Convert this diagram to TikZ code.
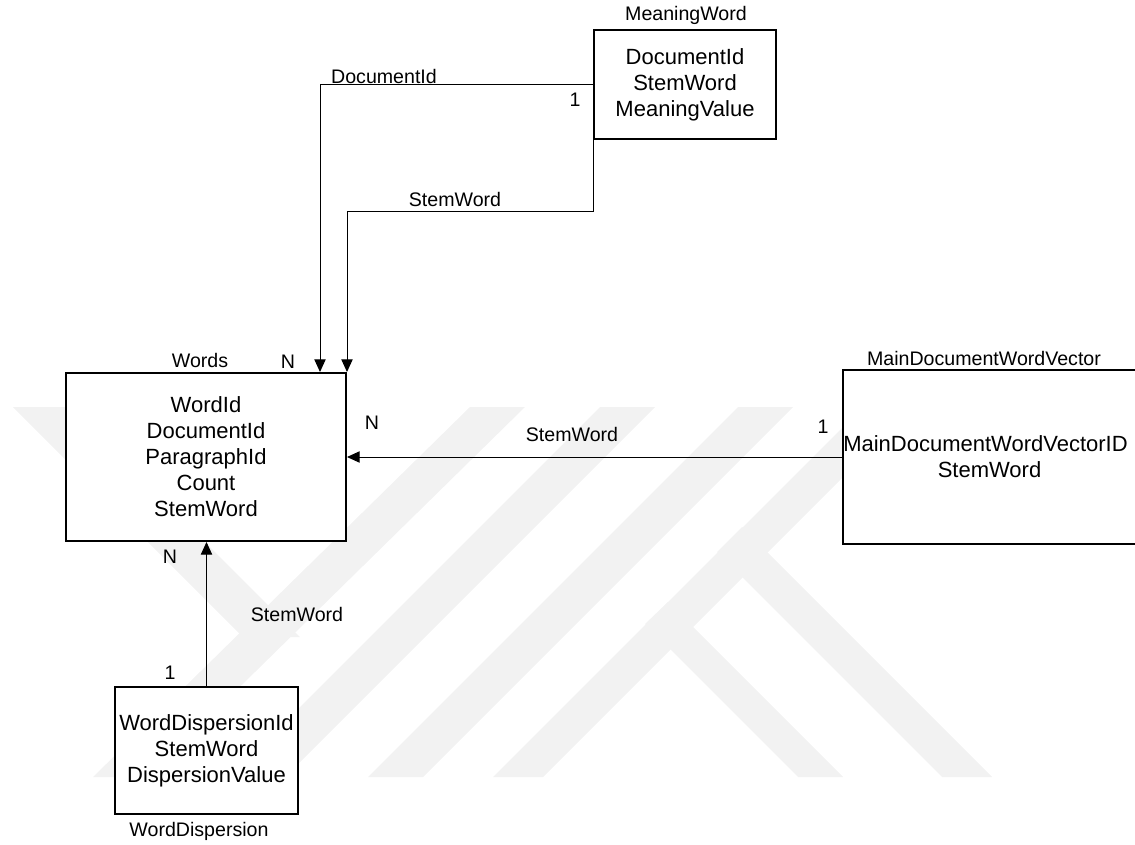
\documentclass[tikz,border=0pt]{standalone}
\usepackage{fontspec}
\setmainfont{Liberation Sans}
\usetikzlibrary{arrows.meta,calc}
\begin{document}
\begin{tikzpicture}[x=0.75pt,y=-0.75pt,
  entity/.style={draw,line width=1.5pt,fill=white,rectangle,inner sep=0pt,align=center,
    font=\fontsize{16.5}{19.5}\selectfont},
  conn/.style={line width=0.75pt,-{Triangle[length=9.5pt,width=8.5pt]}},
  lbl/.style={font=\fontsize{14.7}{17}\selectfont,inner sep=0pt},
  wm/.style={fill=black!5,draw=none}]
\useasboundingbox (0,0) rectangle (1135,845);
% watermark
\fill[wm] (13,407) -- (70,407) -- (300,637) -- (243,637) -- cycle;
\fill[wm] (470,407) -- (525,407) -- (148,777) -- (93,777) -- cycle;
\fill[wm] (600,407) -- (655,407) -- (285,777) -- (230,777) -- cycle;
\fill[wm] (738,407) -- (793,407) -- (423,777) -- (368,777) -- cycle;
\fill[wm] (863,407) -- (913,407) -- (543,777) -- (493,777) -- cycle;
\fill[wm] (645,624) -- (668,602) -- (843,777) -- (798,777) -- cycle;
\fill[wm] (717,552) -- (742,527) -- (992,777) -- (942,777) -- cycle;
% entities
\node[entity,minimum width=136.5pt,minimum height=81.75pt] (MW) at (685,84.5)
  {DocumentId\\StemWord\\MeaningValue};
\node[entity,minimum width=210pt,minimum height=126pt] (Words) at (206,457)
  {WordId\\DocumentId\\ParagraphId\\Count\\StemWord};
\node[entity,minimum width=219.75pt,minimum height=130.5pt] (MDWV) at (989.5,457)
  {\hspace*{-6pt}MainDocumentWordVectorID\\StemWord};
\node[entity,minimum width=137.25pt,minimum height=95.25pt] (WD) at (206.5,750.5)
  {WordDispersionId\\StemWord\\DispersionValue};
% titles
\node[lbl] (tMW) at (686,15) {MeaningWord};
\node[lbl] (tWords) at (200,360) {Words};
\node[lbl] (tMDWV) at (984,358) {MainDocumentWordVector};
\node[lbl] (tWD) at (199,831) {WordDispersion};
% connectors
\draw[conn] (MW.west) -| ([xshift=85.5pt]Words.north);
\draw[conn] (MW.south west) -- ++(0,72) -| (Words.north east);
\draw[conn] (MDWV.west) -- (Words.east);
\draw[conn] (WD.north) -- (WD.north |- Words.south);
% edge labels
\node[lbl] (lDoc) at (384,76) {DocumentId};
\node[lbl] (c1) at (575,100) {1};
\node[lbl] (lStem1) at (455,199) {StemWord};
\node[lbl] (cN1) at (288,362) {N};
\node[lbl] (cN2) at (372,423) {N};
\node[lbl] (lStem2) at (572,434) {StemWord};
\node[lbl] (c2) at (823,427) {1};
\node[lbl] (cN3) at (170,557) {N};
\node[lbl] (lStem3) at (297,614) {StemWord};
\node[lbl] (c3) at (170,673) {1};
\end{tikzpicture}
\end{document}
